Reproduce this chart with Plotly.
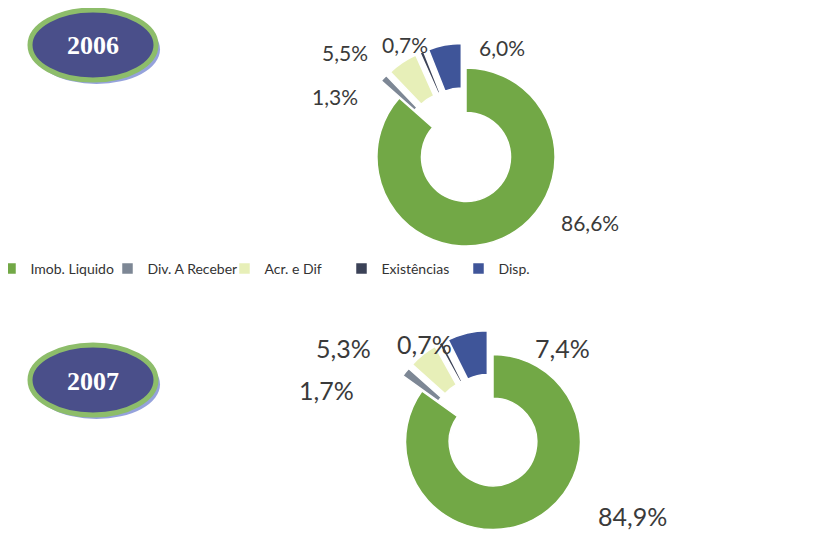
import plotly.graph_objects as go

# data
categories = ["Imob. Liquido", "Div. A Receber", "Acr. e Dif", "Existências", "Disp."]
values_2006 = [86.6, 1.3, 5.5, 0.7, 6.0]
values_2007 = [84.9, 1.7, 5.3, 0.7, 7.4]
years = ["2006", "2007"]

colors = ["#72a846", "#7d8795", "#e7efb8", "#3b4257", "#3f5599"]
pulls = [0, 0.28, 0.28, 0.28, 0.28]

W, H = 836, 546
OFF = 8  # the page body adds an 8px margin, positions below are screen pixels

# pie centres (px) and where the percentage labels sit relative to them
centers = [(466, 157), (493, 442)]
label_offsets = [
    [(124, 66), (-131, -60), (-121, -105), (-61, -112), (36, -109)],
    [(139, 74), (-167, -52), (-150, -94), (-69, -98), (69, -94)],
]
label_sizes = [21, 25]


def px_x(x):
    return (x - OFF) / W


def px_y(y):
    return 1 - (y - OFF) / H


def pct_text(vals):
    # Portuguese decimal comma
    return [f"{v:.1f}%".replace(".", ",") for v in vals]


def donut(vals, name, dom_x, dom_y, show_legend):
    return go.Pie(
        labels=categories,
        values=vals,
        name=name,
        textinfo="none",
        hole=0.5,
        pull=pulls,
        sort=False,
        direction="clockwise",
        rotation=0,
        marker=dict(colors=colors, line=dict(color="white", width=1.5)),
        domain=dict(x=dom_x, y=dom_y),
        showlegend=show_legend,
        hoverinfo="label+percent",
    )


fig = go.Figure()

# 2006 donut: radius ~ 89 px
fig.add_trace(donut(values_2006, "2006",
                    [px_x(352), px_x(580)], [px_y(271), px_y(43)], True))
# 2007 donut runs off the bottom edge in the original
fig.add_trace(donut(values_2007, "2007",
                    [px_x(381), px_x(605)], [0, px_y(330)], False))

shapes = []
annotations = []

# percentage labels
for (cx, cy), offs, vals, size in zip(centers, label_offsets,
                                      [values_2006, values_2007], label_sizes):
    for (dx, dy), txt in zip(offs, pct_text(vals)):
        annotations.append(dict(text=txt, xref="paper", yref="paper",
                                x=px_x(cx + dx), y=px_y(cy + dy), showarrow=False,
                                xanchor="center", yanchor="middle",
                                font=dict(family="Lato, Open Sans, sans-serif",
                                          size=size, color="#3a3a3a")))

# oval year badges
for i, yr in enumerate(years):
    top = 10 + i * 335
    # soft blue shadow
    shapes.append(dict(type="circle", xref="paper", yref="paper",
                       x0=px_x(33), x1=px_x(160), y0=px_y(top + 74), y1=px_y(top + 5),
                       fillcolor="#95a2dc", line=dict(width=0), layer="below"))
    shapes.append(dict(type="circle", xref="paper", yref="paper",
                       x0=px_x(30), x1=px_x(156), y0=px_y(top + 70), y1=px_y(top),
                       fillcolor="#4a4f8a", line=dict(color="#8dbd6a", width=5)))
    annotations.append(dict(text=f"<b>{yr}</b>", xref="paper", yref="paper",
                            x=px_x(93), y=px_y(top + 36), showarrow=False,
                            xanchor="center", yanchor="middle",
                            font=dict(family="Liberation Serif, serif", size=26, color="white")))

fig.update_layout(
    width=W, height=H,
    margin=dict(l=0, r=0, t=0, b=0, autoexpand=False),
    paper_bgcolor="white",
    plot_bgcolor="white",
    shapes=shapes,
    annotations=annotations,
    legend=dict(
        orientation="h",
        x=px_x(283), xanchor="center",
        y=px_y(253), yanchor="top",
        font=dict(family="Lato, Open Sans, sans-serif", size=14, color="#333333"),
        entrywidth=72,
        itemwidth=30,
        traceorder="normal",
    ),
)

fig.write_html("out.html")
